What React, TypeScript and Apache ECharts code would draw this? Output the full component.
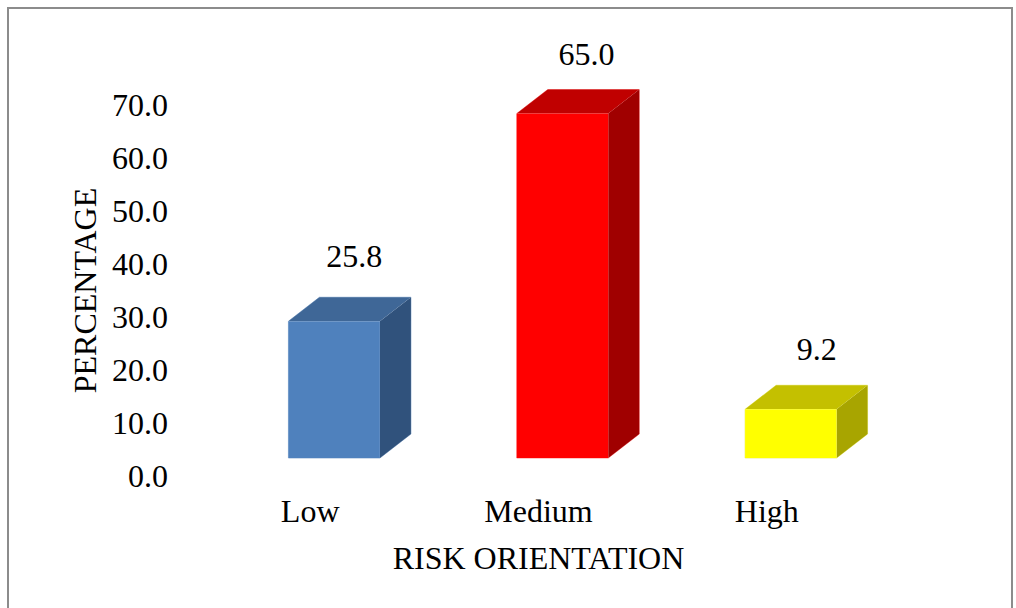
import { useEffect, useRef } from "react";
import * as echarts from "echarts";

const categories = ["Low", "Medium", "High"];
const percentages = [25.8, 65.0, 9.2];
const frontColors = ["#4F81BD", "#FF0000", "#FFFF00"];
const topColors = ["#3F6797", "#C00000", "#C4C000"];
const sideColors = ["#30527C", "#A00000", "#A8A500"];
const edgeColors = ["#9DB8D8", "#FF9090", "#EFEF90"];
const labelLifts = [65, 60, 60];
const labelShifts = [20, 24, 26];

const FONT = '"Liberation Serif", "Times New Roman", serif';
const TEXT = "#000000";
const FONT_SIZE = 32;

// Extruded box geometry, in pixels
const BAR_WIDTH = 91.5;
const DEPTH_X = 31;
const DEPTH_Y = 24;
const FLOOR_LIFT = 18;
const BAR_SHIFT = 24;

function renderBox(params: any, api: any) {
  const i = api.value(0);
  const value = api.value(1);
  const [cx, yTop] = api.coord([i, value]);
  const [, yZero] = api.coord([i, 0]);
  const top = yTop - FLOOR_LIFT;
  const base = yZero - FLOOR_LIFT;
  const left = cx + BAR_SHIFT - BAR_WIDTH / 2;
  const right = left + BAR_WIDTH;
  return {
    type: "group",
    children: [
      {
        type: "polygon",
        shape: {
          points: [
            [left, base],
            [left, top],
            [left + DEPTH_X, top - DEPTH_Y],
            [right + DEPTH_X, top - DEPTH_Y],
            [right + DEPTH_X, base - DEPTH_Y],
            [right, base],
          ],
        },
        style: { fill: "none", stroke: edgeColors[i], lineWidth: 1 },
      },
      {
        type: "polygon",
        shape: { points: [[right, top], [right + DEPTH_X, top - DEPTH_Y], [right + DEPTH_X, base - DEPTH_Y], [right, base]] },
        style: { fill: sideColors[i] },
      },
      {
        type: "polygon",
        shape: { points: [[left, top], [left + DEPTH_X, top - DEPTH_Y], [right + DEPTH_X, top - DEPTH_Y], [right, top]] },
        style: { fill: topColors[i] },
      },
      {
        type: "rect",
        shape: { x: left, y: top, width: BAR_WIDTH, height: base - top },
        style: { fill: frontColors[i] },
      },
      {
        type: "text",
        style: {
          x: cx + BAR_SHIFT + labelShifts[i],
          y: top - labelLifts[i],
          text: value.toFixed(1),
          font: `${FONT_SIZE}px ${FONT}`,
          fill: TEXT,
          align: "center",
          verticalAlign: "middle",
        },
      },
    ],
  };
}

export default function App() {
  const ref = useRef<HTMLDivElement>(null);

  useEffect(() => {
    const chart = echarts.init(ref.current!, null, { renderer: "svg" });
    chart.setOption({
      animation: false,
      backgroundColor: "#FFFFFF",
      textStyle: { fontFamily: FONT },
      graphic: [
        {
          type: "rect",
          shape: { x: 8, y: 8, width: 1004, height: 620 },
          style: { fill: "none", stroke: "#8C8C8C", lineWidth: 2 },
          silent: true,
        },
      ],
      grid: { left: 196, top: 105, width: 685, height: 371 },
      xAxis: {
        type: "category",
        data: categories,
        name: "RISK ORIENTATION",
        nameLocation: "middle",
        nameGap: 66,
        nameTextStyle: { fontFamily: FONT, fontSize: FONT_SIZE, color: TEXT },
        axisLine: { show: false },
        axisTick: { show: false },
        axisLabel: { fontFamily: FONT, fontSize: FONT_SIZE, color: TEXT, margin: 19 },
      },
      yAxis: {
        type: "value",
        min: 0,
        max: 70,
        interval: 10,
        name: "PERCENTAGE",
        nameLocation: "middle",
        nameGap: 95,
        nameTextStyle: { fontFamily: FONT, fontSize: FONT_SIZE, color: TEXT },
        splitLine: { show: false },
        axisLine: { show: false },
        axisTick: { show: false },
        axisLabel: {
          fontFamily: FONT,
          fontSize: FONT_SIZE,
          color: TEXT,
          margin: 28,
          formatter: (v: number) => v.toFixed(1),
        },
      },
      series: [
        {
          type: "custom",
          renderItem: renderBox,
          clip: false,
          data: percentages.map((v, i) => [i, v]),
          encode: { x: 0, y: 1 },
        },
      ],
    });
    return () => chart.dispose();
  }, []);

  return (
    <div
      ref={ref}
      style={{ position: "fixed", left: 0, top: 0, width: 1016, height: 608 }}
    />
  );
}
